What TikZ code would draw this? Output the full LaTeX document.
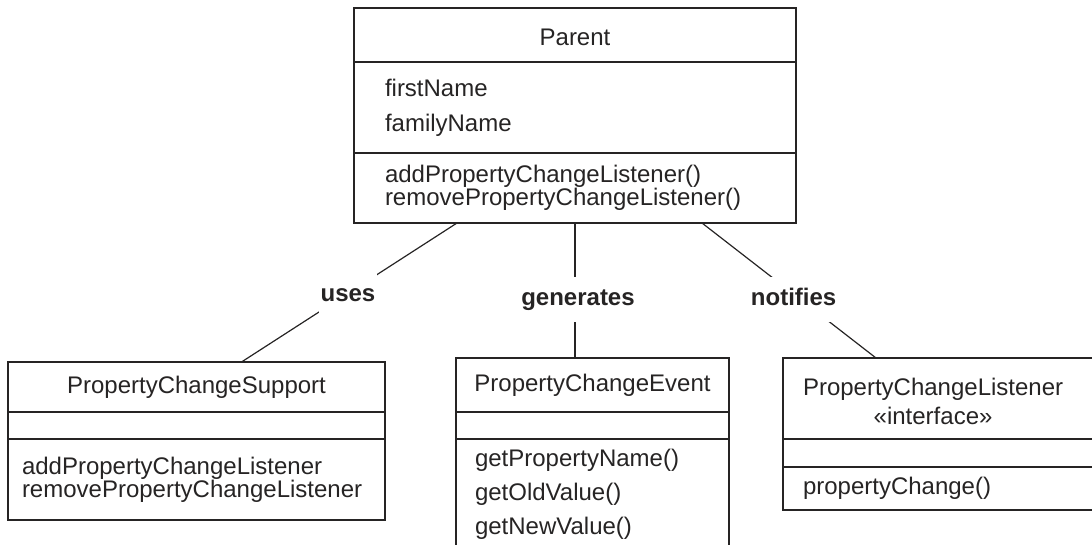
\documentclass[tikz,border=0pt]{standalone}
\usepackage{fontspec}
\setmainfont{Liberation Sans}
\usetikzlibrary{positioning}
\definecolor{umlInk}{RGB}{38,36,36}
\newcommand{\umlfont}{\fontsize{24}{22}\selectfont}
\tikzset{
  umlpart/.style={draw=umlInk, line width=1.2pt, outer sep=0pt, inner xsep=0pt, inner ysep=0pt, text=umlInk, font=\umlfont},
  headpart/.style={umlpart, align=center},
  listpart/.style={umlpart, align=left},
  relation/.style={draw=umlInk, line width=1.2pt},
  rellabel/.style={fill=white, font=\umlfont\bfseries, text=umlInk, inner xsep=1.5pt, inner ysep=11.5pt, text height=17pt, text depth=5pt}
}

\begin{document}
\begin{tikzpicture}[x=1pt, y=-1pt]
  \useasboundingbox (0,0) rectangle (1092,544);
  % parent class
  \node[headpart, anchor=north, minimum width=442pt, minimum height=54pt, text height=22pt] (parentHead) at (575,8) {Parent};
  \node[listpart, below=0pt of parentHead, text width=380pt, inner xsep=31pt, minimum height=91pt] (parentAttrs) {firstName\\[13pt]familyName};
  \node[listpart, below=0pt of parentAttrs, text width=380pt, inner xsep=31pt, minimum height=70pt] (parentOps) {addPropertyChangeListener()\\removePropertyChangeListener()};
  % support class
  \node[headpart, anchor=north, minimum width=377pt, minimum height=50pt] (supportHead) at (196.5,362) {PropertyChangeSupport};
  \node[headpart, below=0pt of supportHead, minimum width=377pt, minimum height=27pt] (supportAttrs) {};
  \node[listpart, below=0pt of supportAttrs, text width=349pt, inner xsep=14pt, minimum height=81pt] (supportOps) {addPropertyChangeListener\\removePropertyChangeListener};
  % event class
  \node[headpart, anchor=north, minimum width=273pt, minimum height=54pt] (eventHead) at (592.5,358) {PropertyChangeEvent};
  \node[headpart, below=0pt of eventHead, minimum width=273pt, minimum height=27pt] (eventAttrs) {};
  \node[listpart, below=0pt of eventAttrs, text width=235pt, inner xsep=19pt, minimum height=111pt] (eventOps) {getPropertyName()\\[10.5pt]getOldValue()\\[10.5pt]getNewValue()};
  % listener interface
  \node[listpart, anchor=north, text width=290pt, inner xsep=20pt, minimum height=81pt] (listenerHead) at (948,358) {\begin{tabular}{@{}c@{}}\rule{0pt}{29pt}PropertyChangeListener\\[5pt]«interface»\end{tabular}};
  \node[headpart, below=0pt of listenerHead, minimum width=330pt, minimum height=28pt] (listenerAttrs) {};
  \node[listpart, below=0pt of listenerAttrs, text width=290pt, inner xsep=20pt, minimum height=43pt] (listenerOps) {propertyChange()};
  % relations
  \draw[relation] ([xshift=-118pt]parentOps.south) -- node[rellabel, pos=0.52, xshift=3pt] (usesLabel) {uses} ([xshift=45pt]supportHead.north);
  \draw[relation] (parentOps.south) -- node[rellabel, pos=0.567, xshift=3pt] (generatesLabel) {generates} ([xshift=-17.5pt]eventHead.north);
  \draw[relation] ([xshift=127pt]parentOps.south) -- node[rellabel, pos=0.567, xshift=-7pt] (notifiesLabel) {notifies} ([xshift=-72pt]listenerHead.north);
\end{tikzpicture}
\end{document}
